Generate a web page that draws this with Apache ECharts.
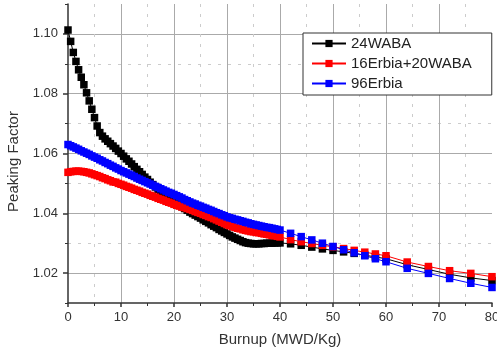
<!DOCTYPE html>
<html>
<head>
<meta charset="utf-8">
<script src="https://cdn.jsdelivr.net/npm/echarts@6/dist/echarts.min.js"></script>
<style>
html,body{margin:0;padding:0;background:#fff;}
#chart{width:497px;height:356px;}
</style>
</head>
<body>
<div id="chart"></div>
<script>
// Burnup (MWD/Kg): dense sampling up to 40, sparse tail after
const burnupDense = [0,0.5,1,1.5,2,2.5,3,3.5,4,4.5,5,5.5,6,6.5,7,7.5,8,8.5,9,9.5,
  10,10.5,11,11.5,12,12.5,13,13.5,14,14.5,15,15.5,16,16.5,17,17.5,18,18.5,19,19.5,
  20,20.5,21,21.5,22,22.5,23,23.5,24,24.5,25,25.5,26,26.5,27,27.5,28,28.5,29,29.5,
  30,30.5,31,31.5,32,32.5,33,33.5,34,34.5,35,35.5,36,36.5,37,37.5,38,38.5,39,39.5,40];
const burnupTail = [42,44,46,48,50,52,54,56,58,60,64,68,72,76,80];

const waba24Dense = [1.1013,1.0975,1.0938,1.0908,1.0880,1.0855,1.0830,1.0803,1.0776,1.0748,
  1.0720,1.0692,1.0670,1.0658,1.0649,1.0641,1.0633,1.0625,1.0617,1.0608,
  1.0600,1.0591,1.0582,1.0574,1.0565,1.0556,1.0547,1.0539,1.0530,1.0521,
  1.0513,1.0504,1.0496,1.0488,1.0480,1.0473,1.0466,1.0459,1.0452,1.0446,
  1.0440,1.0434,1.0428,1.0422,1.0416,1.0410,1.0404,1.0399,1.0394,1.0389,
  1.0384,1.0378,1.0373,1.0368,1.0362,1.0357,1.0352,1.0346,1.0341,1.0336,
  1.0331,1.0326,1.0321,1.0317,1.0313,1.0309,1.0305,1.0302,1.0300,1.0299,
  1.0298,1.0298,1.0298,1.0299,1.0299,1.0300,1.0300,1.0300,1.0301,1.0301,1.0301];
const waba24Tail = [1.0298,1.0293,1.0287,1.0281,1.0276,1.0271,1.0266,1.0260,1.0254,1.0248,
  1.0228,1.0212,1.0196,1.0184,1.0175];

const erbiaWabaDense = [1.0537,1.0539,1.0540,1.0541,1.0541,1.0540,1.0539,1.0537,1.0535,1.0532,
  1.0529,1.0526,1.0523,1.0519,1.0516,1.0512,1.0509,1.0505,1.0504,1.0500,
  1.0497,1.0494,1.0490,1.0487,1.0484,1.0480,1.0477,1.0474,1.0470,1.0467,
  1.0464,1.0460,1.0457,1.0454,1.0450,1.0447,1.0444,1.0440,1.0437,1.0434,
  1.0430,1.0427,1.0424,1.0421,1.0419,1.0416,1.0413,1.0410,1.0406,1.0403,
  1.0400,1.0396,1.0393,1.0389,1.0386,1.0382,1.0378,1.0374,1.0370,1.0366,
  1.0362,1.0359,1.0356,1.0353,1.0350,1.0348,1.0345,1.0343,1.0341,1.0339,
  1.0338,1.0336,1.0335,1.0333,1.0331,1.0330,1.0328,1.0326,1.0325,1.0323,1.0321];
const erbiaWabaTail = [1.0312,1.0305,1.0299,1.0293,1.0288,1.0282,1.0276,1.0270,1.0264,1.0258,
  1.0237,1.0222,1.0208,1.0199,1.0188];

const erbia96Dense = [1.0630,1.0626,1.0622,1.0618,1.0614,1.0609,1.0605,1.0601,1.0597,1.0592,
  1.0588,1.0584,1.0579,1.0575,1.0570,1.0566,1.0561,1.0557,1.0552,1.0548,
  1.0543,1.0539,1.0535,1.0531,1.0527,1.0523,1.0518,1.0514,1.0510,1.0506,
  1.0502,1.0498,1.0494,1.0490,1.0486,1.0482,1.0478,1.0474,1.0470,1.0467,
  1.0463,1.0459,1.0455,1.0451,1.0446,1.0442,1.0438,1.0434,1.0431,1.0427,
  1.0424,1.0420,1.0417,1.0413,1.0410,1.0406,1.0402,1.0399,1.0395,1.0392,
  1.0388,1.0385,1.0383,1.0380,1.0378,1.0375,1.0373,1.0370,1.0368,1.0365,
  1.0363,1.0361,1.0359,1.0357,1.0355,1.0353,1.0352,1.0350,1.0348,1.0346,1.0344];
const erbia96Tail = [1.0333,1.0322,1.0311,1.0300,1.0289,1.0278,1.0268,1.0258,1.0248,1.0238,
  1.0216,1.0199,1.0182,1.0166,1.0152];

const seriesNames = ['24WABA', '16Erbia+20WABA', '96Erbia'];
const seriesColors = ['#000000', '#ff0000', '#0000ff'];
const xLabel = 'Burnup (MWD/Kg)';
const yLabel = 'Peaking Factor';

function pairs(xs1, ys1, xs2, ys2) {
  const out = [];
  xs1.forEach((x, i) => out.push([x, ys1[i]]));
  xs2.forEach((x, i) => out.push([x, ys2[i]]));
  return out;
}
const allData = [
  pairs(burnupDense, waba24Dense, burnupTail, waba24Tail),
  pairs(burnupDense, erbiaWabaDense, burnupTail, erbiaWabaTail),
  pairs(burnupDense, erbia96Dense, burnupTail, erbia96Tail)
];

const FONT = '"Liberation Sans", Arial, sans-serif';
const chart = echarts.init(document.getElementById('chart'), null, {renderer: 'canvas'});
chart.setOption({
  animation: false,
  backgroundColor: '#ffffff',
  grid: {left: 68, right: 5, top: 4, bottom: 53, containLabel: false, outerBoundsMode: 'none'},
  legend: {
    orient: 'vertical',
    left: 303, top: 33,
    padding: [3, 20, 4, 8],
    itemGap: 5,
    itemWidth: 34,
    itemHeight: 9,
    backgroundColor: '#ffffff',
    borderColor: '#333333',
    borderWidth: 1,
    borderRadius: 0,
    textStyle: {fontFamily: FONT, fontSize: 15, color: '#222222'},
    data: seriesNames
  },
  xAxis: {
    type: 'value',
    min: 0, max: 80, interval: 10,
    name: xLabel,
    nameLocation: 'middle',
    nameGap: 29,
    nameTextStyle: {fontFamily: FONT, fontSize: 15, color: '#333333'},
    axisLine: {show: true, lineStyle: {color: '#333333', width: 1.5}},
    axisTick: {show: true, inside: false, length: 4, lineStyle: {color: '#333333', width: 1.5}},
    minorTick: {show: true, splitNumber: 2, length: 3, lineStyle: {color: '#333333', width: 1}},
    axisLabel: {fontFamily: FONT, fontSize: 13, color: '#333333', margin: 8},
    splitLine: {show: true, showMinLine: false, showMaxLine: false, lineStyle: {color: '#aaaaaa', width: 1}},
    minorSplitLine: {show: true, lineStyle: {color: '#cccccc', width: 1, type: [3, 7]}}
  },
  yAxis: [{
    type: 'value',
    position: 'left',
    min: 1.01, max: 1.11,
    splitNumber: 5,
    name: yLabel,
    nameLocation: 'middle',
    nameGap: 42,
    nameTextStyle: {fontFamily: FONT, fontSize: 15, color: '#333333', padding: [0, 16, 0, 0]},
    axisLine: {show: true, lineStyle: {color: '#333333', width: 1.5}},
    axisTick: {show: true, inside: false, length: 5, lineStyle: {color: '#333333', width: 1.5}},
    axisLabel: {fontFamily: FONT, fontSize: 13, color: '#333333', margin: 10, showMinLabel: false, showMaxLabel: false,
      formatter: v => v.toFixed(2)},
    splitLine: {show: true, showMinLine: false, showMaxLine: false, lineStyle: {color: '#aaaaaa', width: 1}}
  }, {
    type: 'value',
    position: 'left',
    offset: 0,
    min: 1.01, max: 1.11,
    interval: 0.02,
    axisLine: {show: false},
    axisTick: {show: true, inside: false, length: 3, lineStyle: {color: '#333333', width: 1}},
    axisLabel: {show: false},
    splitLine: {show: true, showMinLine: false, showMaxLine: false, lineStyle: {color: '#cccccc', width: 1, type: [3, 7]}}
  }],
  series: seriesNames.map((name, i) => ({
    name: name,
    type: 'line',
    yAxisIndex: 0,
    data: allData[i],
    symbol: 'rect',
    symbolSize: 7.5,
    showAllSymbol: true,
    showSymbol: true,
    clip: false,
    itemStyle: {color: seriesColors[i]},
    lineStyle: {color: seriesColors[i], width: 1},
    emphasis: {disabled: true}
  }))
});
</script>
</body>
</html>
